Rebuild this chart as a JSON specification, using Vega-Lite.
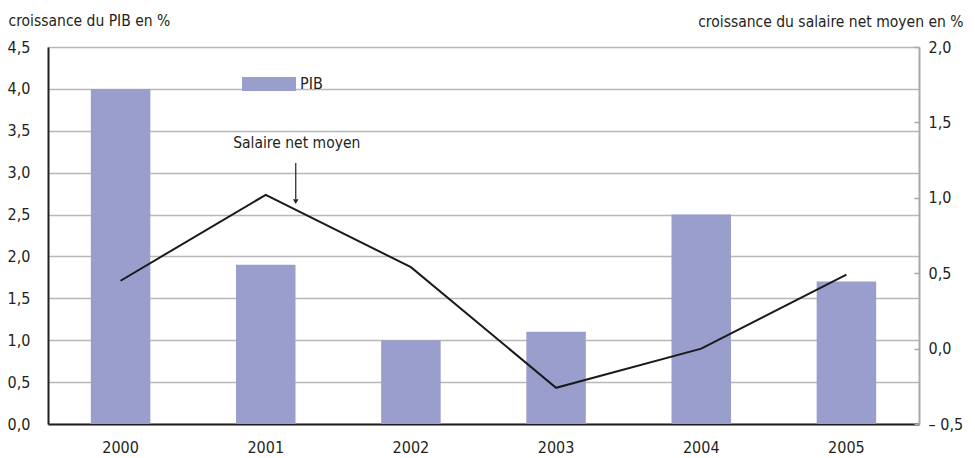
{
  "$schema": "https://vega.github.io/schema/vega-lite/v6.json",
  "width": 871,
  "height": 377,
  "autosize": {"type": "none"},
  "padding": {"left": 48, "top": 47, "right": 56, "bottom": 34},
  "background": "white",
  "config": {
    "view": {"stroke": null},
    "font": "DejaVu Sans Condensed, Roboto, sans-serif",
    "axis": {"labelFont": "DejaVu Sans Condensed, Roboto, sans-serif", "titleFont": "DejaVu Sans Condensed, Roboto, sans-serif", "labelFontSize": 16, "titleFontSize": 15.5, "labelColor": "#231f20", "titleColor": "#231f20", "titleFontWeight": "normal"},
    "legend": {"labelFont": "DejaVu Sans Condensed, Roboto, sans-serif", "labelFontSize": 16, "labelColor": "#231f20"}
  },
  "datasets": {
    "pib": [
      {"annee": "2000", "pib": 4.0, "serie": "PIB"},
      {"annee": "2001", "pib": 1.9, "serie": "PIB"},
      {"annee": "2002", "pib": 1.0, "serie": "PIB"},
      {"annee": "2003", "pib": 1.1, "serie": "PIB"},
      {"annee": "2004", "pib": 2.5, "serie": "PIB"},
      {"annee": "2005", "pib": 1.7, "serie": "PIB"}
    ],
    "salaire": [
      {"annee": "2000", "salaire": 0.45},
      {"annee": "2001", "salaire": 1.02},
      {"annee": "2002", "salaire": 0.54},
      {"annee": "2003", "salaire": -0.26},
      {"annee": "2004", "salaire": 0.0},
      {"annee": "2005", "salaire": 0.49}
    ],
    "annot": [
      {"annee": "2001", "texte": "Salaire net moyen", "yt": 1.33, "y1": 1.23, "y2": 0.99, "yp": 0.975}
    ]
  },
  "layer": [
    {
      "data": {"name": "pib"},
      "mark": {"type": "bar"},
      "encoding": {
        "x": {
          "field": "annee", "type": "ordinal",
          "scale": {"paddingInner": 0.59, "paddingOuter": 0.295},
          "axis": {"title": null, "labelAngle": 0, "ticks": false, "labelPadding": 15, "domainColor": "#231f20", "domainWidth": 2, "grid": false}
        },
        "y": {
          "field": "pib", "type": "quantitative",
          "scale": {"domain": [0, 4.5], "nice": false},
          "axis": {
            "orient": "left",
            "values": [0, 0.5, 1, 1.5, 2, 2.5, 3, 3.5, 4, 4.5],
            "labelExpr": "replace(format(datum.value, '.1f'), '.', ',')",
            "ticks": false, "labelPadding": 18,
            "domainColor": "#231f20", "domainWidth": 2,
            "grid": true, "gridColor": "#b8b8b8", "gridWidth": 1.5,
            "title": "croissance du PIB en %",
            "titleAngle": 0, "titleX": -40, "titleY": -22, "titleAlign": "left", "titleBaseline": "alphabetic"
          }
        },
        "color": {
          "field": "serie", "type": "nominal",
          "scale": {"range": ["#9a9ecd"]},
          "legend": {
            "title": null, "orient": "none", "legendX": 194, "legendY": 10,
            "symbolType": "M-1,-0.26L1,-0.26L1,0.26L-1,0.26Z",
            "symbolSize": 2916, "symbolStrokeWidth": 0, "labelOffset": 4
          }
        }
      }
    },
    {
      "data": {"name": "salaire"},
      "mark": {"type": "line", "color": "#1a1a1a", "strokeWidth": 2},
      "encoding": {
        "x": {"field": "annee", "type": "ordinal"},
        "y": {
          "field": "salaire", "type": "quantitative",
          "scale": {"domain": [-0.5, 2.0], "nice": false},
          "axis": {
            "orient": "right",
            "values": [-0.5, 0, 0.5, 1, 1.5, 2],
            "labelExpr": "datum.value < 0 ? '– ' + replace(format(-datum.value, '.1f'), '.', ',') : replace(format(datum.value, '.1f'), '.', ',')",
            "grid": false,
            "domainColor": "#a8a8a8", "domainWidth": 2,
            "tickColor": "#a8a8a8", "tickSize": -5, "tickWidth": 1.5, "labelPadding": 14,
            "title": "croissance du salaire net moyen en %",
            "titleAngle": 0, "titleX": 44, "titleY": -21, "titleAlign": "right", "titleBaseline": "alphabetic"
          }
        }
      }
    },
    {
      "data": {"name": "annot"},
      "mark": {"type": "text", "font": "DejaVu Sans Condensed, Roboto, sans-serif", "fontSize": 15.5, "color": "#231f20", "xOffset": 31, "baseline": "alphabetic"},
      "encoding": {
        "x": {"field": "annee", "type": "ordinal"},
        "y": {"field": "yt", "type": "quantitative", "scale": {"domain": [-0.5, 2.0], "nice": false}, "axis": null},
        "text": {"field": "texte"}
      }
    },
    {
      "data": {"name": "annot"},
      "mark": {"type": "rule", "color": "#231f20", "strokeWidth": 1.2, "xOffset": 30},
      "encoding": {
        "x": {"field": "annee", "type": "ordinal"},
        "y": {"field": "y1", "type": "quantitative", "scale": {"domain": [-0.5, 2.0], "nice": false}, "axis": null},
        "y2": {"field": "y2"}
      }
    },
    {
      "data": {"name": "annot"},
      "mark": {"type": "point", "shape": "triangle-down", "filled": true, "color": "#231f20", "size": 30, "xOffset": 30, "opacity": 1},
      "encoding": {
        "x": {"field": "annee", "type": "ordinal"},
        "y": {"field": "yp", "type": "quantitative", "scale": {"domain": [-0.5, 2.0], "nice": false}, "axis": null}
      }
    }
  ],
  "resolve": {"scale": {"y": "independent"}}
}
